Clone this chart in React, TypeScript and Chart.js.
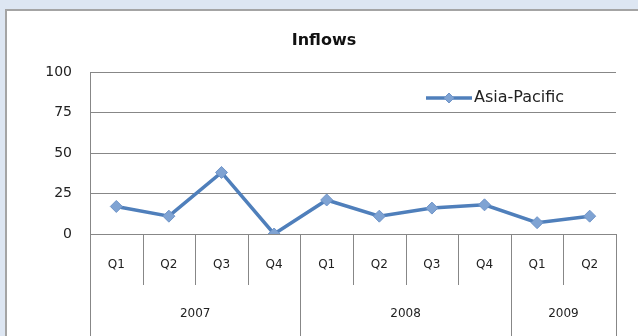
import React, { useEffect, useRef } from 'react';
import { Chart, registerables } from 'chart.js';

Chart.register(...registerables);

const chartTitle = 'Inflows';
const seriesName = 'Asia-Pacific';
const quarters = ['Q1', 'Q2', 'Q3', 'Q4', 'Q1', 'Q2', 'Q3', 'Q4', 'Q1', 'Q2'];
const years = ['2007', '2008', '2009'];
const yearSpans = [4, 4, 2];
const inflows = [17, 11, 38, 0, 21, 11, 16, 18, 7, 11];
const yMin = 0;
const yMax = 100;
const yStep = 25;

const LINE = '#4f7fbb';
const MARKER = '#7fa3d3';
const GRID = '#878787';
const TEXT = '#222222';
const FONT = '"DejaVu Sans", sans-serif';

const extrasPlugin = {
  id: 'extras',
  afterDraw(chart: any) {
    const ctx = chart.ctx;
    const ca = chart.chartArea;
    const x = chart.scales.x;
    const H = chart.height;
    ctx.save();
    // title
    ctx.fillStyle = '#111';
    ctx.font = `bold 16px ${FONT}`;
    ctx.textAlign = 'center';
    ctx.textBaseline = 'middle';
    ctx.fillText(chartTitle, 324, 41);

    // category table
    ctx.strokeStyle = GRID;
    ctx.lineWidth = 1;
    const line = (x1: number, y1: number, x2: number, y2: number) => {
      ctx.beginPath();
      ctx.moveTo(x1, y1);
      ctx.lineTo(x2, y2);
      ctx.stroke();
    };
    const L = Math.round(ca.left) + 0.5;
    const R = Math.round(ca.right) + 0.5;
    const B = Math.round(ca.bottom);
    line(L, ca.top, L, H);
    line(R, B, R, H);
    const yearBounds = new Set<number>();
    let acc = 0;
    yearSpans.forEach((s) => {
      acc += s;
      yearBounds.add(acc);
    });
    for (let i = 1; i < quarters.length; i++) {
      const bx = Math.round((x.getPixelForValue(i - 1) + x.getPixelForValue(i)) / 2) + 0.5;
      const bottom = yearBounds.has(i) ? H : B + 51;
      line(bx, B, bx, bottom);
    }
    // year labels
    ctx.fillStyle = TEXT;
    ctx.font = `12px ${FONT}`;
    let start = 0;
    years.forEach((yr, k) => {
      const end = start + yearSpans[k];
      const x1 = (x.getPixelForValue(start - 1) + x.getPixelForValue(start)) / 2;
      const x2 = (x.getPixelForValue(end - 1) + x.getPixelForValue(end)) / 2;
      const left = start === 0 ? ca.left : x1;
      const right = end === quarters.length ? ca.right : x2;
      ctx.fillText(yr, (left + right) / 2, B + 80);
      start = end;
    });

    // legend
    const ly = ca.top + 26;
    const lx1 = ca.right - 190;
    const lx2 = lx1 + 46;
    ctx.strokeStyle = LINE;
    ctx.lineWidth = 3.5;
    line(lx1, ly, lx2, ly);
    const cx = (lx1 + lx2) / 2;
    ctx.fillStyle = MARKER;
    ctx.strokeStyle = '#6f94c8';
    ctx.lineWidth = 1;
    ctx.beginPath();
    ctx.moveTo(cx, ly - 5);
    ctx.lineTo(cx + 5, ly);
    ctx.lineTo(cx, ly + 5);
    ctx.lineTo(cx - 5, ly);
    ctx.closePath();
    ctx.fill();
    ctx.stroke();
    ctx.fillStyle = TEXT;
    ctx.font = `16px ${FONT}`;
    ctx.textAlign = 'left';
    ctx.fillText(seriesName, lx2 + 2, ly);
    ctx.restore();
  },
};

export default function App() {
  const ref = useRef<HTMLCanvasElement | null>(null);
  useEffect(() => {
    if (!ref.current) return;
    const chart = new Chart(ref.current, {
      type: 'line',
      data: {
        labels: quarters,
        datasets: [
          {
            label: seriesName,
            data: inflows,
            borderColor: LINE,
            borderWidth: 3.5,
            backgroundColor: MARKER,
            pointStyle: 'rectRot',
            pointRadius: 6,
            pointBackgroundColor: MARKER,
            pointBorderColor: '#6f94c8',
            pointBorderWidth: 1,
            tension: 0,
            fill: false,
          },
        ],
      },
      options: {
        animation: false,
        responsive: false,
        devicePixelRatio: 1,
        layout: { padding: { top: 72, right: 22, left: 0, bottom: 0 } },
        plugins: {
          legend: { display: false },
          title: { display: false },
          tooltip: { enabled: false },
        },
        scales: {
          x: {
            type: 'category',
            offset: true,
            grid: { display: false, drawTicks: false },
            border: { display: false },
            ticks: {
              color: TEXT,
              font: { family: FONT, size: 12 },
              padding: 24,
              maxRotation: 0,
              autoSkip: false,
            },
            afterFit: (s: any) => {
              s.height = 102;
            },
          },
          y: {
            min: yMin,
            max: yMax,
            grid: { color: GRID, lineWidth: 1, drawTicks: false },
            border: { display: false },
            ticks: {
              stepSize: yStep,
              color: TEXT,
              font: { family: FONT, size: 14 },
              padding: 18,
            },
            afterFit: (s: any) => {
              s.width = 90;
            },
          },
        },
      },
      plugins: [extrasPlugin],
    });
    return () => chart.destroy();
  }, []);

  return (
    <div
      style={{
        position: 'fixed',
        left: 0,
        top: 0,
        width: 638,
        height: 336,
        overflow: 'hidden',
        background: '#dde6f2',
      }}
    >
      <div
        style={{
          position: 'absolute',
          left: 5,
          top: 9,
          width: 660,
          height: 360,
          background: '#ffffff',
          border: '2px solid #a4a4a4',
        }}
      />
      <canvas
        ref={ref}
        width={638}
        height={336}
        style={{ position: 'absolute', left: 0, top: 0, width: 638, height: 336 }}
      />
    </div>
  );
}
